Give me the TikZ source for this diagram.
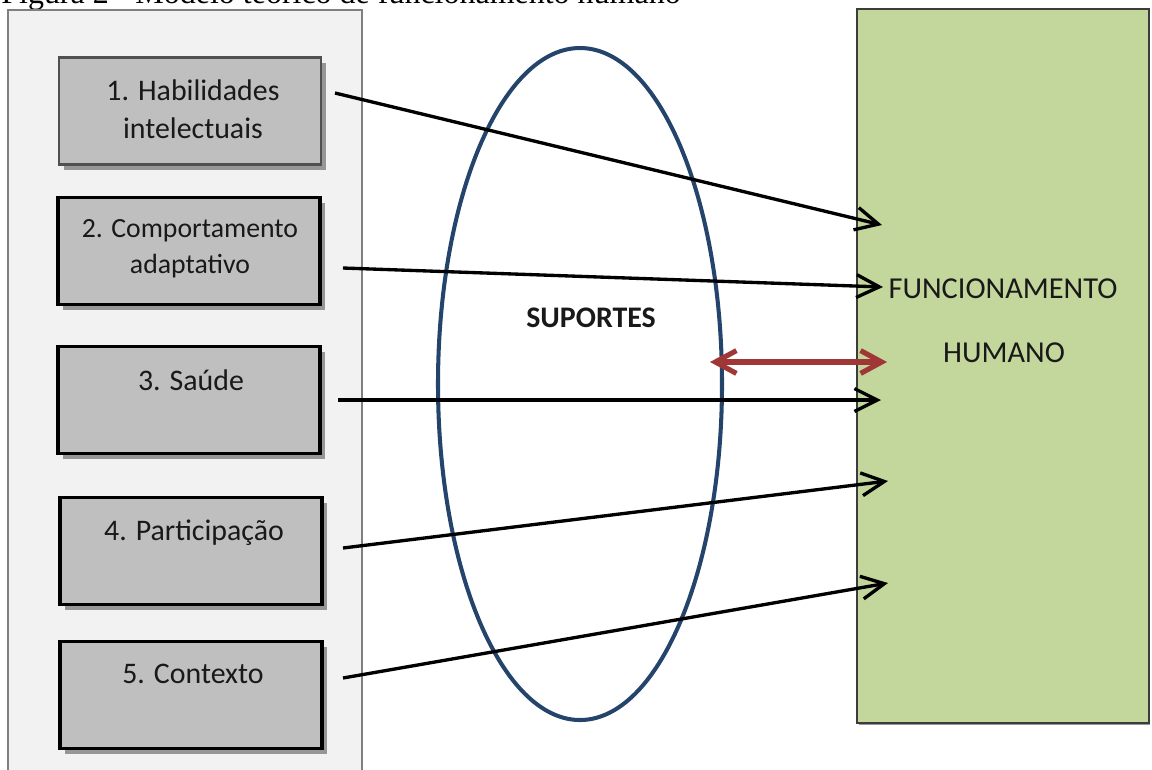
\documentclass[tikz,border=0pt]{standalone}
\usepackage{fontspec}
\setmainfont{Carlito}
\newfontfamily\capfont{Liberation Serif}
\usetikzlibrary{arrows.meta,shadows}
\definecolor{panelfill}{RGB}{242,242,242}
\definecolor{panelline}{RGB}{128,128,128}
\definecolor{boxfill}{RGB}{191,191,191}
\definecolor{boxline1}{RGB}{80,80,80}
\definecolor{greenfill}{RGB}{195,214,155}
\definecolor{greenline}{RGB}{60,60,60}
\definecolor{ellblue}{RGB}{36,68,108}
\definecolor{arrred}{RGB}{160,55,55}
\definecolor{shadowgray}{RGB}{150,150,150}
\definecolor{txt}{RGB}{25,25,25}
\begin{document}
\begin{tikzpicture}[x=0.02cm,y=-0.02cm,
  factor/.style={draw=black, line width=2pt, fill=boxfill,
    minimum width=5.24cm, minimum height=2.14cm, inner sep=0pt,
    drop shadow={shadow xshift=0.1cm, shadow yshift=-0.1cm, fill=shadowgray, opacity=1}},
  ftext/.style={anchor=base, inner sep=0pt, text=txt, font=\fontsize{17}{20}\selectfont},
  ftextsmall/.style={ftext, font=\fontsize{15.8}{19}\selectfont},
  bigtext/.style={anchor=base, inner sep=0pt, text=txt, font=\fontsize{17.3}{20}\selectfont},
  link/.style={line width=1.9pt, black, -{Straight Barb[length=13pt,width=13pt]}},
  both/.style={line width=2.9pt, arrred, {Straight Barb[length=12pt,width=13pt]}-{Straight Barb[length=12pt,width=13pt]}}
]
\useasboundingbox (0,0) rectangle (1152,769);
% caption (cut at the top)
\node[anchor=base west, inner sep=0pt, font=\capfont\fontsize{18.2}{20}\selectfont] (cap) at (1,3) {Figura 2 - Modelo teórico de funcionamento humano};
% left panel
\draw[draw=panelline, line width=1.2pt, fill=panelfill] (8,10) rectangle (362,800);
% factor boxes
\node[factor, draw=boxline1, line width=1.6pt] (b1) at (190,111) {};
\node[factor] (b2) at (189,251) {};
\node[factor] (b3) at (189,400) {};
\node[factor] (b4) at (191,551) {};
\node[factor] (b5) at (191,695) {};
\node[ftext] (t1a) at (193,100) {1. Habilidades};
\node[ftext] (t1b) at (193,138) {intelectuais};
\node[ftextsmall] (t2a) at (190,237) {2. Comportamento};
\node[ftextsmall] (t2b) at (190,273) {adaptativo};
\node[ftext] (t3) at (191,390) {3. Saúde};
\node[ftext] (t4) at (194,540) {4. Participação};
\node[ftext] (t5) at (193,683) {5. Contexto};
% green box
\node[draw=greenline, line width=1pt, fill=greenfill, minimum width=5.84cm, minimum height=14.28cm, inner sep=0pt,
  drop shadow={shadow xshift=0.03cm, shadow yshift=-0.04cm, fill=shadowgray, opacity=1}] (fh) at (1003,366) {};
\node[bigtext] (fh1) at (1003,298) {FUNCIONAMENTO};
\node[bigtext] (fh2) at (1004,362) {HUMANO};
% supports ellipse
\draw[ellblue, line width=2.3pt] (580,384) ellipse [x radius=142, y radius=336];
\node[anchor=base, inner sep=0pt, text=txt, font=\bfseries\fontsize{17}{20}\selectfont] (sup) at (591,327) {SUPORTES};
% connector end points
\coordinate (s1) at (335,93);  \coordinate (e1) at (882,225);
\coordinate (s2) at (343,268); \coordinate (e2) at (883,287);
\coordinate (s3) at (338,400); \coordinate (e3) at (881,400);
\coordinate (s4) at (343,548); \coordinate (e4) at (888,481);
\coordinate (s5) at (343,678); \coordinate (e5) at (888,583);
\coordinate (r1) at (710,362); \coordinate (r2) at (887,362);
\draw[link] (s1) -- (e1);
\draw[link] (s2) -- (e2);
\draw[link] (s3) -- (e3);
\draw[link] (s4) -- (e4);
\draw[link] (s5) -- (e5);
\draw[both] (r1) -- (r2);
\end{tikzpicture}
\end{document}
